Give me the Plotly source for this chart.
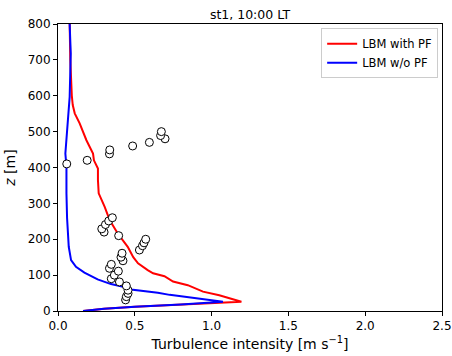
import plotly.graph_objects as go

# LBM with PF (red)
red_x = [0.163, 0.30, 0.50, 0.80, 1.194, 1.05, 0.944, 0.845, 0.749, 0.693, 0.619, 0.584, 0.521,
         0.49, 0.454, 0.389, 0.337, 0.304, 0.265, 0.26, 0.26, 0.234, 0.228, 0.185, 0.141,
         0.109, 0.096, 0.09, 0.08, 0.076]
red_z = [0, 6, 12, 18, 26, 44, 54, 72, 82, 97, 105, 114, 133,
         150, 179, 216, 253, 290, 328, 365, 397, 420, 439, 476, 523,
         551, 574, 600, 700, 800]

# LBM w/o PF (blue)
blue_x = [0.163, 0.30, 0.50, 0.80, 1.074, 0.944, 0.845, 0.727, 0.65, 0.475, 0.467, 0.345, 0.258,
          0.172, 0.117, 0.085, 0.07, 0.063, 0.059, 0.055, 0.055, 0.048, 0.055, 0.065,
          0.076, 0.083, 0.076]
blue_z = [0, 6, 12, 18, 26, 33, 40, 45, 51, 60, 63, 75, 88,
          107, 123, 142, 179, 226, 260, 328, 402, 439, 485, 532,
          597, 718, 800]

# Observations
obs_x = [0.44, 0.445, 0.456, 0.456, 0.445, 0.40, 0.347, 0.367, 0.393, 0.335, 0.347,
         0.423, 0.41, 0.417, 0.53, 0.55, 0.56, 0.571, 0.395, 0.30, 0.285, 0.309, 0.33, 0.354,
         0.057, 0.19, 0.335, 0.337, 0.486, 0.595, 0.697, 0.668, 0.673]
obs_z = [31, 40, 49, 58, 70, 81, 90, 100, 111, 119, 130,
         140, 150, 161, 170, 182, 190, 200, 210, 220, 229, 241, 251, 260,
         410, 420, 438, 449, 460, 470, 480, 489, 500]

x_ticks = [0.0, 0.5, 1.0, 1.5, 2.0, 2.5]
y_ticks = [0, 100, 200, 300, 400, 500, 600, 700, 800]

fig = go.Figure()
fig.add_trace(go.Scatter(x=red_x, y=red_z, mode="lines", name="LBM with PF",
                         line=dict(color="#ff0000", width=2)))
fig.add_trace(go.Scatter(x=blue_x, y=blue_z, mode="lines", name="LBM w/o PF",
                         line=dict(color="#0000ff", width=2)))
fig.add_trace(go.Scatter(x=obs_x, y=obs_z, mode="markers", showlegend=False,
                         marker=dict(symbol="circle", size=8, color="white",
                                     line=dict(color="black", width=1))))

font = "DejaVu Sans"
fig.update_layout(
    width=452, height=356,
    margin=dict(l=58, r=10, t=24, b=45),
    paper_bgcolor="white", plot_bgcolor="white",
    font=dict(family=font, size=12, color="black"),
    title=dict(text="st1, 10:00 LT", x=0.5, xref="paper", xanchor="center",
               y=1, yref="paper", yanchor="bottom", pad=dict(b=5),
               font=dict(size=12.5)),
    showlegend=True,
    legend=dict(x=0.99, y=0.985, xanchor="right", yanchor="top",
                bgcolor="rgba(255,255,255,0.8)", bordercolor="#cccccc", borderwidth=1,
                font=dict(size=11.5), itemwidth=30, tracegroupgap=0),
    xaxis=dict(range=[0, 2.5], tickvals=x_ticks, ticktext=[f"{v:.1f}" for v in x_ticks],
               ticks="outside", ticklen=4, tickcolor="black", showgrid=False, zeroline=False,
               showline=True, linecolor="black", linewidth=1, mirror=True, automargin=False,
               title=dict(text="Turbulence intensity [m s<sup>−1</sup>]", standoff=6,
                          font=dict(size=14))),
    yaxis=dict(range=[0, 800], tickvals=y_ticks, ticks="outside", ticklen=4, tickcolor="black",
               showgrid=False, zeroline=False, showline=True, linecolor="black", linewidth=1,
               mirror=True, automargin=False,
               title=dict(text="<i>z</i> [m]", standoff=8, font=dict(size=14))),
)

fig.write_html("out.html")
